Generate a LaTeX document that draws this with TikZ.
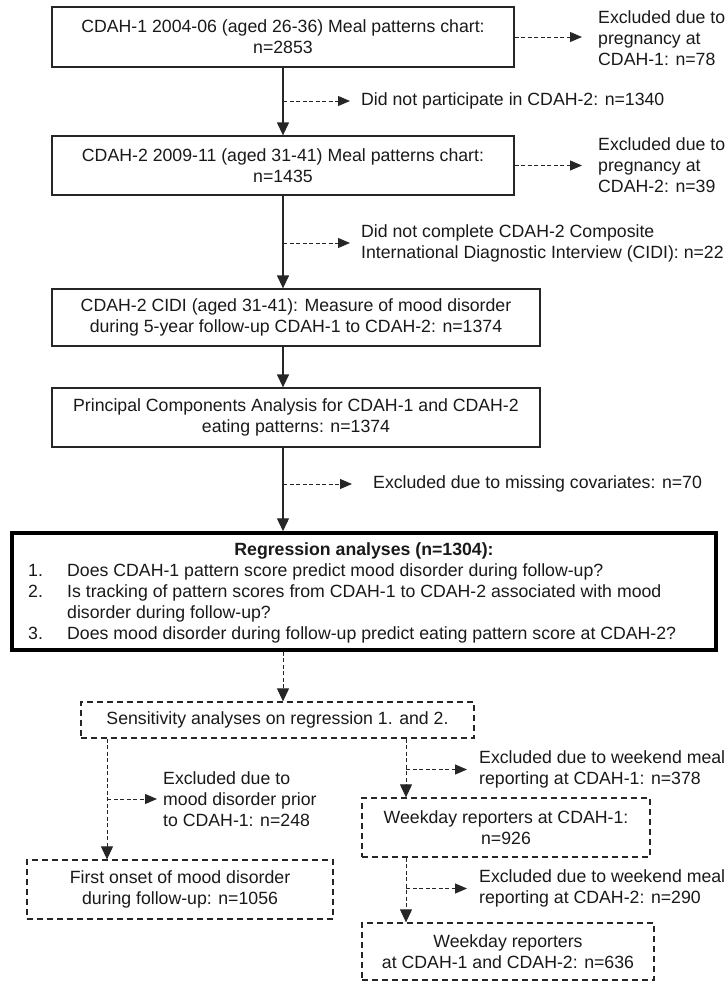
\documentclass[tikz,border=0pt]{standalone}
\usepackage{fontspec}
\setmainfont{Liberation Sans}
\usetikzlibrary{arrows.meta}
\newcommand{\diagfont}{\fontsize{17.7}{21}\selectfont}
\begin{document}
\begin{tikzpicture}[x=1pt,y=-1pt,
  every node/.style={font=\diagfont, text=black!90, inner sep=0pt},
  sbox/.style={draw=black!85, line width=1.3pt, align=center},
  dbox/.style={draw=black!85, line width=1.3pt, dash pattern=on 6pt off 4pt, align=center},
  tbox/.style={draw=black, line width=3.5pt},
  side/.style={align=left, anchor=west},
  mainarrow/.style={draw=black!85, line width=1.3pt, -{Triangle[length=13pt,width=12pt]}},
  stub/.style={draw=black!85, line width=1pt, dash pattern=on 4pt off 2.5pt, -{Triangle[length=12pt,width=10pt]}},
  dline/.style={draw=black!85, line width=1pt, dash pattern=on 4pt off 2.5pt, -{Triangle[length=13pt,width=12pt]}}
]
\useasboundingbox (0,0) rectangle (728,983);

% main boxes
\node[sbox, minimum width=462pt, minimum height=60pt] (b1) at (283,37) {CDAH-1 2004-06 (aged 26-36) Meal patterns chart:\\n=2853};
\node[sbox, minimum width=462pt, minimum height=59pt] (b2) at (283,165.5) {CDAH-2 2009-11 (aged 31-41) Meal patterns chart:\\n=1435};
\node[sbox, minimum width=488pt, minimum height=57pt] (b3) at (296,317.5) {CDAH-2 CIDI (aged 31-41): Measure of mood disorder\\during 5-year follow-up CDAH-1 to CDAH-2: n=1374};
\node[sbox, minimum width=488pt, minimum height=59pt] (b4) at (296,417.5) {Principal Components Analysis for CDAH-1 and CDAH-2\\eating patterns: n=1374};
\node[tbox, minimum width=704pt, minimum height=117pt] (reg) at (364,591.5) {};
\node[font=\diagfont\bfseries, anchor=base] (regt) at (364,555) {Regression analyses (n=1304):};
\node[anchor=base west] (regl) at (28,576) {\begin{tabular}[t]{@{}p{39pt}@{}l@{}}1. & Does CDAH-1 pattern score predict mood disorder during follow-up?\\
2. & Is tracking of pattern scores from CDAH-1 to CDAH-2 associated with mood\\
 & disorder during follow-up?\\
3. & Does mood disorder during follow-up predict eating pattern score at CDAH-2?\end{tabular}};

% sensitivity boxes
\node[dbox, minimum width=393pt, minimum height=36pt] (sens) at (277.5,720) {Sensitivity analyses on regression 1. and 2.};
\node[dbox, minimum width=306pt, minimum height=59pt] (b7) at (180,889.5) {First onset of mood disorder\\during follow-up: n=1056};
\node[dbox, minimum width=288pt, minimum height=59pt] (b8) at (506,827.5) {Weekday reporters at CDAH-1:\\n=926};
\node[dbox, minimum width=292pt, minimum height=57pt] (b9) at (508,951.5) {Weekday reporters\\at CDAH-1 and CDAH-2: n=636};

% side texts
\node[side] (x1) at (598,38.5) {Excluded due to\\pregnancy at\\CDAH-1: n=78};
\node[side] (x2) at (598,165) {Excluded due to\\pregnancy at\\CDAH-2: n=39};
\node[side] (x3) at (361,101) {Did not participate in CDAH-2: n=1340};
\node[side] (x4) at (361,243) {Did not complete CDAH-2 Composite\\International Diagnostic Interview (CIDI): n=22};
\node[side] (x5) at (373,484) {Excluded due to missing covariates: n=70};
\node[side] (x6) at (163,799) {Excluded due to\\mood disorder prior\\to CDAH-1: n=248};
\node[side] (x7) at (479,769.5) {Excluded due to weekend meal\\reporting at CDAH-1: n=378};
\node[side] (x8) at (479,888.5) {Excluded due to weekend meal\\reporting at CDAH-2: n=290};

% connectors
\coordinate (M) at (283,0);
\coordinate (L) at (107,0);
\coordinate (R) at (406,0);
\coordinate (t1) at ([xshift=-16pt]x1.west);
\coordinate (t2) at ([xshift=-16pt]x2.west);

\draw[mainarrow] (b1.south) -- (b2.north);
\draw[mainarrow] (b2.south) -- (M |- b3.north);
\draw[mainarrow] (M |- b3.south) -- (M |- b4.north);
\draw[mainarrow] (M |- b4.south) -- (M |- reg.north);
\draw[dline] (M |- reg.south) -- (M |- sens.north);

\draw[stub] (b1.east) -- (t1 |- b1.east);
\draw[stub] (b2.east) -- (t2 |- b2.east);
\draw[stub] (M |- x3.west) -- ([xshift=-11pt]x3.west);
\draw[stub] (M |- x4.west) -- ([xshift=-11pt]x4.west);
\draw[stub] (M |- x5.west) -- ([xshift=-21pt]x5.west);

\draw[dline] (L |- sens.south) -- (L |- b7.north);
\draw[stub] (L |- x6.west) -- ([xshift=-6pt]x6.west);
\draw[dline] (R |- sens.south) -- (R |- b8.north);
\draw[stub] (R |- x7.west) -- ([xshift=-12pt]x7.west);
\draw[dline] (R |- b8.south) -- (R |- b9.north);
\draw[stub] (R |- x8.west) -- ([xshift=-12pt]x8.west);
\end{tikzpicture}
\end{document}
